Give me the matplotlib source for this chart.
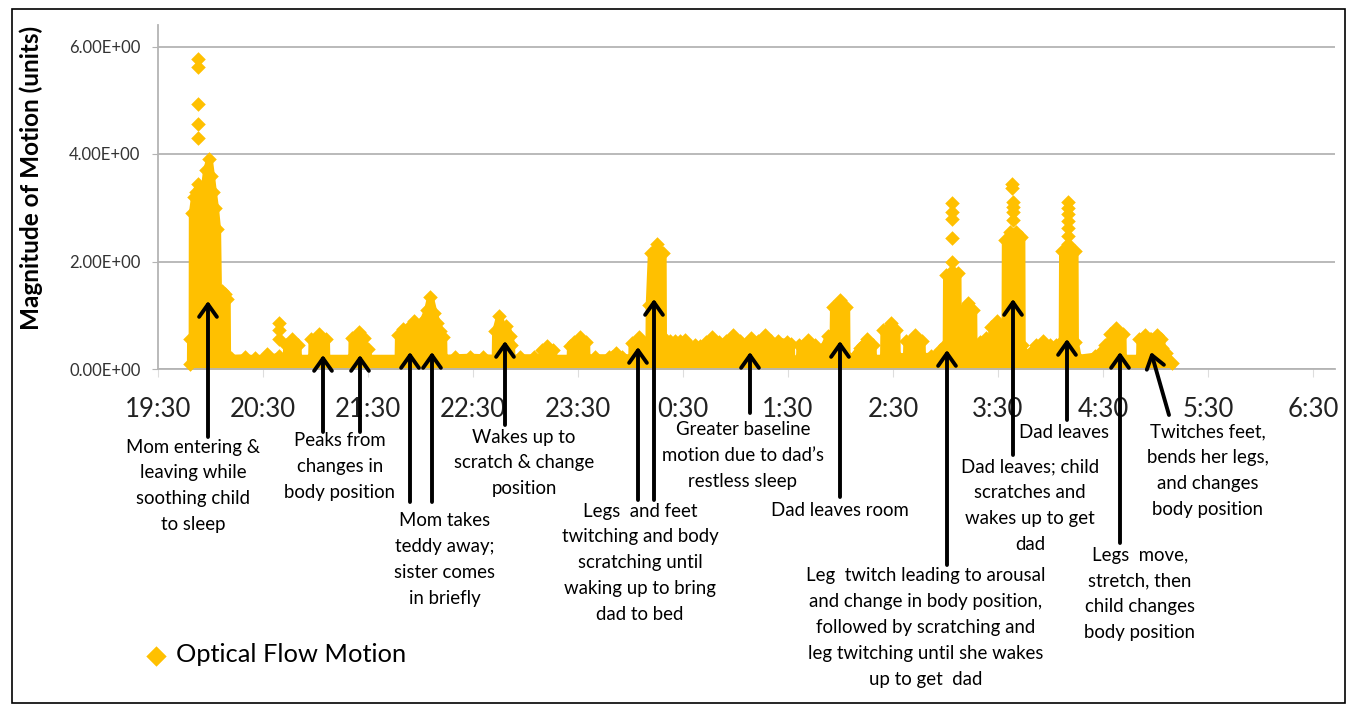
import numpy as np
import matplotlib.pyplot as plt
from matplotlib.patches import Rectangle

plt.rcParams['font.family'] = ['Lato', 'DejaVu Sans']

# time axis: minutes after 19:30, with the hour labels shown under the axis
hour_ticks = [0, 60, 120, 180, 240, 300, 360, 420, 480, 540, 600, 660]
hour_labels = ['19:30', '20:30', '21:30', '22:30', '23:30', '0:30',
               '1:30', '2:30', '3:30', '4:30', '5:30', '6:30']

# upper envelope of the optical flow motion
minutes = [18.2, 18.3, 19.2, 19.3, 20.5, 21.5, 22.9, 24.2, 25.5, 26.3, 27.4, 29.1, 30.3, 31.4, 32.6, 33.8, 34.3, 36.5, 38.5, 39.3, 39.5,
           41.7, 49.7, 55.4, 61.0, 62.1, 63.5, 69.1, 72.0,
           73.0, 73.2, 76.6, 79.8, 80.0,
           87.5, 87.7, 92.0, 96.0, 96.2,
           110.4, 110.6, 114.9, 117.6, 117.8, 119.8, 120.0,
           136.9, 137.1, 140.0, 143.3, 143.5, 146.3, 149.4, 149.6,
           150.3, 150.5, 153.7, 155.4, 157.5, 159.5, 161.3, 163.0, 163.2,
           170.0, 178.3, 186.0,
           192.4, 192.6, 194.9, 197.0, 199.1, 201.0, 201.8, 202.0,
           207.0, 215.0,
           219.1, 219.3, 222.3, 225.8, 226.0,
           235.2, 235.4, 237.5, 237.7, 241.1, 244.7, 244.9,
           250.0, 258.0, 259.3, 262.0, 265.0,
           270.4, 270.6, 274.9, 278.9, 279.1, 280.2,
           280.4, 281.6, 285.1, 288.4, 288.6,
           289.7, 292.6, 295.4, 298.3, 301.1, 303.5, 306.9, 309.7, 313.0,
           313.2, 316.6, 320.4, 320.6, 324.2,
           324.4, 328.6, 332.6, 332.8, 333.7,
           334.0, 339.1, 342.5, 342.7, 346.9, 350.5, 350.7, 351.5,
           351.7, 354.3, 359.4, 361.7, 361.9, 366.3,
           366.5, 371.4, 375.2, 375.4, 376.6,
           380.0, 382.9, 385.5, 385.7, 389.7, 393.3, 393.5, 395.4,
           401.0, 402.9, 405.1, 408.4, 408.6, 414.3,
           414.5, 418.7, 422.0, 422.2, 427.4,
           427.6, 432.6, 436.4, 436.6, 442.0, 446.9, 449.7,
           450.1, 450.3, 453.5, 456.9, 457.1, 459.0,
           459.2, 462.6, 465.9, 466.1, 469.7,
           469.9, 473.0, 476.0, 476.2, 479.4, 482.6, 482.9,
           483.7, 483.9, 486.9, 490.3, 493.4, 493.6,
           495.4, 500.0, 502.0, 505.7, 509.7, 513.1, 516.0,
           516.4, 516.6, 520.0, 523.8, 524.0, 525.7,
           535.4, 541.1, 543.7, 543.9, 547.7, 551.2, 551.4, 560.6,
           560.8, 564.0, 567.0, 567.2, 567.4, 570.6, 573.4, 573.6, 576.0, 579.4]
motion = [0.10, 0.55, 0.55, 2.90, 3.20, 3.30, 3.45, 3.20, 3.00, 3.40, 3.70, 3.90, 3.60, 3.30, 3.00, 2.60, 1.45, 1.45, 1.40, 1.30, 0.21,
          0.21, 0.22, 0.20, 0.22, 0.27, 0.21, 0.25, 0.21,
          0.21, 0.45, 0.55, 0.45, 0.21,
          0.21, 0.55, 0.66, 0.55, 0.21,
          0.21, 0.58, 0.69, 0.58, 0.38, 0.38, 0.21,
          0.21, 0.64, 0.74, 0.64, 0.78, 0.89, 0.78, 0.21,
          0.21, 0.85, 1.10, 1.34, 1.05, 0.85, 0.70, 0.60, 0.21,
          0.22, 0.23, 0.22,
          0.21, 0.70, 0.99, 0.75, 0.80, 0.61, 0.45, 0.21,
          0.22, 0.22,
          0.21, 0.35, 0.43, 0.35, 0.21,
          0.21, 0.42, 0.42, 0.50, 0.60, 0.50, 0.21,
          0.22, 0.22, 0.23, 0.30, 0.23,
          0.21, 0.48, 0.60, 0.48, 0.27, 0.27,
          1.20, 2.15, 2.32, 2.15, 0.55,
          0.55, 0.53, 0.53, 0.53, 0.54, 0.45, 0.44, 0.42, 0.36,
          0.50, 0.60, 0.50, 0.21, 0.21,
          0.52, 0.63, 0.52, 0.36, 0.36,
          0.47, 0.57, 0.47, 0.52, 0.63, 0.52, 0.27, 0.27,
          0.47, 0.53, 0.50, 0.47, 0.18, 0.20,
          0.45, 0.54, 0.45, 0.21, 0.21,
          0.40, 0.62, 0.67, 1.15, 1.28, 1.15, 0.18, 0.18,
          0.40, 0.45, 0.55, 0.45, 0.21, 0.21,
          0.72, 0.85, 0.72, 0.24, 0.24,
          0.52, 0.63, 0.52, 0.24, 0.25, 0.35, 0.44,
          0.44, 1.75, 1.82, 1.78, 0.55, 0.55,
          1.10, 1.23, 1.10, 0.33, 0.38,
          0.50, 0.58, 0.50, 0.78, 0.89, 0.78, 0.60,
          0.60, 2.40, 2.55, 2.55, 2.45, 0.45,
          0.27, 0.35, 0.45, 0.52, 0.44, 0.44, 0.50,
          0.50, 2.20, 2.32, 2.20, 0.50, 0.21,
          0.25, 0.44, 0.50, 0.65, 0.76, 0.65, 0.21, 0.21,
          0.55, 0.63, 0.55, 0.50, 0.55, 0.63, 0.55, 0.40, 0.30, 0.12]

# isolated high readings standing above the dense columns
spike_minutes = [22.9, 22.9, 22.9, 22.9, 22.9, 69.1, 69.1, 69.1,
                 453.5, 453.5, 453.5, 453.5, 453.5,
                 487.8, 487.8, 488.5, 488.5, 488.8, 488.5,
                 520.0, 520.0, 520.0, 520.0, 520.0, 520.0]
spike_motion = [5.76, 5.62, 4.93, 4.55, 4.29, 0.85, 0.72, 0.55,
                3.08, 2.93, 2.80, 2.43, 2.00,
                3.44, 3.36, 3.10, 3.02, 2.92, 2.78,
                3.10, 3.00, 2.88, 2.75, 2.62, 2.48]

notes = ['Mom entering &\nleaving while\nsoothing child\nto sleep',
         'Peaks from\nchanges in\nbody position',
         'Mom takes\nteddy away;\nsister comes\nin briefly',
         'Wakes up to\nscratch & change\nposition',
         'Legs  and feet\ntwitching and body\nscratching until\nwaking up to bring\ndad to bed',
         'Greater baseline\nmotion due to dad\u2019s\nrestless sleep',
         'Dad leaves room',
         'Leg  twitch leading to arousal\nand change in body position,\nfollowed by scratching and\nleg twitching until she wakes\nup to get  dad',
         'Dad leaves; child\nscratches and\nwakes up to get\ndad',
         'Dad leaves',
         'Legs  move,\nstretch, then\nchild changes\nbody position',
         'Twitches feet,\nbends her legs,\nand changes\nbody position']

W, H = 1352, 709
gold = '#FFC000'
grey = '#b4b4b4'

fig = plt.figure(figsize=(W / 100, H / 100), dpi=100)
ax = fig.add_axes([158 / W, 1 - 369 / H, (1335 - 158) / W, (369 - 25) / H])
ax.set_xlim(0, 672.6)
ax.set_ylim(0, 6.4)

# dense band of points under the envelope
ax.fill_between(minutes, 0.06, motion, color=gold, lw=5, edgecolor=gold, joinstyle='round', zorder=2, clip_on=False)
sc = ax.scatter(minutes + spike_minutes, motion + spike_motion, marker='D', s=55, color=gold,
                linewidths=0, zorder=3, clip_on=False)

ax.set_yticks([0, 2, 4, 6])
ax.set_yticklabels(['%.2E' % v for v in [0, 2, 4, 6]])
ax.set_xticks(hour_ticks)
ax.set_xticklabels(hour_labels)
ax.grid(axis='y', color=grey, lw=1.3)
ax.set_axisbelow(True)
for side in ['top', 'right']:
    ax.spines[side].set_visible(False)
ax.spines['left'].set_color(grey)
ax.spines['bottom'].set_color(grey)
ax.spines['left'].set_linewidth(1.3)
ax.spines['bottom'].set_linewidth(1.3)
ax.tick_params(axis='y', direction='out', length=4.5, color=grey, labelsize=12, pad=8, labelcolor='#333333')
ax.tick_params(axis='x', direction='out', length=6, color='#dddddd', labelsize=18.5, pad=14, labelcolor='#222222')

fig.text(31 / W, 1 - 178 / H, 'Magnitude of Motion (units)', rotation=90, ha='center', va='center',
         fontsize=17.5, fontweight='bold')

# arrows: tip x, tip y, tail x, tail y in figure pixels (from top)
arrows = [(208, 301, 208, 437), (323, 355, 323, 432), (360, 355, 360, 432),
          (410, 352, 410, 502), (432, 352, 432, 502), (505, 341, 505, 425),
          (638, 347, 638, 500), (654, 299, 654, 500), (750, 352, 750, 413),
          (840, 341, 840, 497), (947, 350, 947, 565), (1013, 299, 1013, 455),
          (1067, 339, 1067, 420), (1120, 352, 1120, 543), (1151, 352, 1169, 415)]
for x0, y0, x1, y1 in arrows:
    ax.annotate('', xy=(x0, H - y0), xycoords='figure pixels', xytext=(x1, H - y1),
                textcoords='figure pixels', annotation_clip=False,
                arrowprops=dict(arrowstyle='->,head_length=0.45,head_width=0.32', lw=2.8,
                                color='black', shrinkA=0, shrinkB=0, mutation_scale=20))

# text blocks: centre x, first line centre y
spots = [(193, 447), (340, 441), (445, 521), (524, 437), (640, 511), (743, 430),
         (840, 510), (926, 576), (1030, 467), (1064, 432), (1140, 555), (1208, 432)]
for note, (cx, cy) in zip(notes, spots):
    for i, line in enumerate(note.split('\n')):
        fig.text(cx / W, 1 - (cy + i * 25.8) / H, line, ha='center', va='center',
                 fontsize=13.4, color='black')

fig.legend(handles=[sc], labels=['Optical Flow Motion'], loc='center left',
           bbox_to_anchor=(143 / W, 1 - 655 / H), frameon=False, fontsize=18.3,
           handletextpad=0.3, borderpad=0, borderaxespad=0, markerscale=1.4, handlelength=1)

fig.add_artist(Rectangle((12 / W, 1 - 703 / H), (1345 - 12) / W, (703 - 9) / H,
                         transform=fig.transFigure, fill=False, lw=1.2, edgecolor='black'))

fig.savefig('out.png', dpi=100)
